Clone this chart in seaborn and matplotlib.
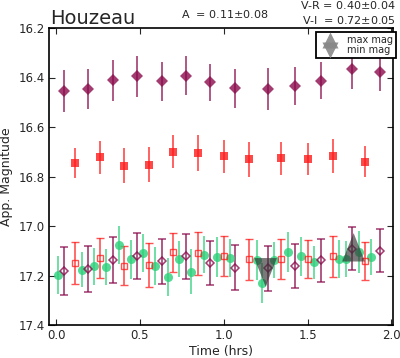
import numpy as np
import pandas as pd
import matplotlib
matplotlib.use("Agg")
import matplotlib.pyplot as plt
from matplotlib.lines import Line2D
import seaborn as sns

# ---------------- data ----------------
t_I = [0.045, 0.19, 0.34, 0.48, 0.63, 0.775, 0.92, 1.07, 1.265, 1.425, 1.58, 1.765, 1.93]
I_shift = [16.455, 16.447, 16.412, 16.395, 16.416, 16.393, 16.420, 16.443, 16.446, 16.434, 16.413, 16.366, 16.376]
I_shift_err = [0.086, 0.081, 0.083, 0.082, 0.079, 0.079, 0.074, 0.079, 0.084, 0.076, 0.075, 0.08, 0.08]
I_mag = [17.181, 17.173, 17.138, 17.122, 17.142, 17.123, 17.149, 17.169, 17.170, 17.162, 17.139, 17.092, 17.099]
I_err = [0.096, 0.093, 0.094, 0.094, 0.091, 0.091, 0.090, 0.091, 0.091, 0.090, 0.087, 0.087, 0.086]

t_R = [0.113, 0.263, 0.408, 0.555, 0.70, 0.846, 1.003, 1.154, 1.343, 1.503, 1.652, 1.84]
R_shift = [16.746, 16.722, 16.756, 16.752, 16.700, 16.706, 16.719, 16.730, 16.727, 16.729, 16.717, 16.740]
R_shift_err = [0.060, 0.067, 0.070, 0.070, 0.066, 0.072, 0.067, 0.070, 0.065, 0.065, 0.068, 0.064]
R_mag = [17.150, 17.129, 17.160, 17.158, 17.106, 17.111, 17.123, 17.135, 17.134, 17.135, 17.122, 17.143]
R_err = [0.084, 0.080, 0.079, 0.088, 0.079, 0.085, 0.081, 0.082, 0.082, 0.077, 0.083, 0.077]

t_V = [0.01, 0.153, 0.227, 0.297, 0.374, 0.448, 0.52, 0.593, 0.669, 0.736, 0.808, 0.884,
       0.959, 1.035, 1.196, 1.23, 1.303, 1.385, 1.463, 1.54, 1.69, 1.73, 1.805, 1.879]
V_mag = [17.197, 17.176, 17.162, 17.166, 17.076, 17.135, 17.108, 17.162, 17.207, 17.133, 17.185, 17.116,
         17.126, 17.129, 17.139, 17.230, 17.137, 17.106, 17.123, 17.146, 17.133, 17.133, 17.106, 17.126]
V_err = [0.076, 0.070, 0.075, 0.074, 0.077, 0.080, 0.077, 0.077, 0.077, 0.074, 0.091, 0.075,
         0.080, 0.077, 0.081, 0.080, 0.074, 0.081, 0.080, 0.067, 0.076, 0.074, 0.084, 0.073]

t_max, max_mag = [1.775], [17.086]
t_min, min_mag = [1.25], [17.187]

title = "Houzeau"
amp_text = r"A  = 0.11$\pm$0.08"
vr_text = r"V-R = 0.40$\pm$0.04"
vi_text = r"V-I  = 0.72$\pm$0.05"

# ---------------- style ----------------
sns.set_style("ticks", {"xtick.direction": "in", "ytick.direction": "in"})
plt.rcParams["font.family"] = ["DejaVu Sans"]
plt.rcParams["mathtext.fontset"] = "dejavusans"

PURPLE = "#8a0a4c"
RED = "#ff1a1a"
GREEN = "#2bd07a"

fig = plt.figure(figsize=(4.0, 3.58), dpi=100)
ax = fig.add_axes([49 / 400, 1 - 325 / 358, (393 - 49) / 400, (325 - 28) / 358])

eb_kw = dict(ls="none", capsize=2.6, elinewidth=1.2, capthick=1.0)

# lower (observed) series
ax.errorbar(t_V, V_mag, yerr=V_err, color=GREEN, alpha=0.8, marker="o", ms=6.5, mec=GREEN, mew=0, **eb_kw)
ax.errorbar(t_R, R_mag, yerr=R_err, color=RED, alpha=0.75, marker="s", ms=4.2, mfc="none", mec=RED, mew=1.0, **eb_kw)
ax.errorbar(t_I, I_mag, yerr=I_err, color=PURPLE, alpha=0.8, marker="D", ms=3.6, mfc="none", mec=PURPLE, mew=1.1, **eb_kw)

# shifted series
ax.errorbar(t_R, R_shift, yerr=R_shift_err, color=RED, alpha=0.8, marker="s", ms=6.3, mec=RED, mew=0, **eb_kw)
ax.errorbar(t_I, I_shift, yerr=I_shift_err, color=PURPLE, alpha=0.8, marker="D", ms=6.0, mec=PURPLE, mew=0, **eb_kw)

# max / min markers
tri_down = [(0, -1), (-0.8, 1), (0.8, 1)]
tri_up = [(0, 1), (-0.8, -1), (0.8, -1)]
df_min = pd.DataFrame({"t": t_min, "m": min_mag})
df_max = pd.DataFrame({"t": t_max, "m": max_mag})
sns.scatterplot(data=df_min, x="t", y="m", marker=tri_down, s=420, color="#333333", alpha=0.65,
                edgecolor="none", ax=ax, zorder=5)
sns.scatterplot(data=df_max, x="t", y="m", marker=tri_up, s=420, color="#333333", alpha=0.65,
                edgecolor="none", ax=ax, zorder=5)

ax.set_xlim(-0.042, 2.01)
ax.set_ylim(17.4, 16.2)
ax.set_xticks([0.0, 0.5, 1.0, 1.5, 2.0])
ax.set_yticks([16.2, 16.4, 16.6, 16.8, 17.0, 17.2, 17.4])
ax.tick_params(direction="in", top=True, right=True, length=4, width=0.8, labelsize=8.5, pad=3)
for s in ax.spines.values():
    s.set_linewidth(1.2)
    s.set_color("black")
ax.set_xlabel("Time (hrs)", fontsize=9, labelpad=2)
ax.set_ylabel("App. Magnitude", fontsize=9, labelpad=4)

handles = [
    Line2D([], [], ls="none", marker="^", ms=11, color="#888888", mec="none", alpha=0.9, label="max mag"),
    Line2D([], [], ls="none", marker="v", ms=11, color="#888888", mec="none", alpha=0.9, label="min mag"),
]
leg = ax.legend(handles=handles, loc="upper right", bbox_to_anchor=(396 / 400, 1 - 32 / 358),
                bbox_transform=fig.transFigure, borderaxespad=0, fontsize=7, labelspacing=0.0,
                handletextpad=0.7, handlelength=2.2, borderpad=0.3, fancybox=False, framealpha=1,
                edgecolor="black")
leg.get_frame().set_linewidth(1.3)

fig.text(50 / 400, 1 - 24 / 358, title, fontsize=14, ha="left", va="baseline")
fig.text(225 / 400, 1 - 17.5 / 358, amp_text, fontsize=8, ha="center", va="baseline")
fig.text(396 / 400, 1 - 9 / 358, vr_text, fontsize=8, ha="right", va="baseline")
fig.text(396 / 400, 1 - 23.5 / 358, vi_text, fontsize=8, ha="right", va="baseline")

fig.savefig("out.png", dpi=100)
